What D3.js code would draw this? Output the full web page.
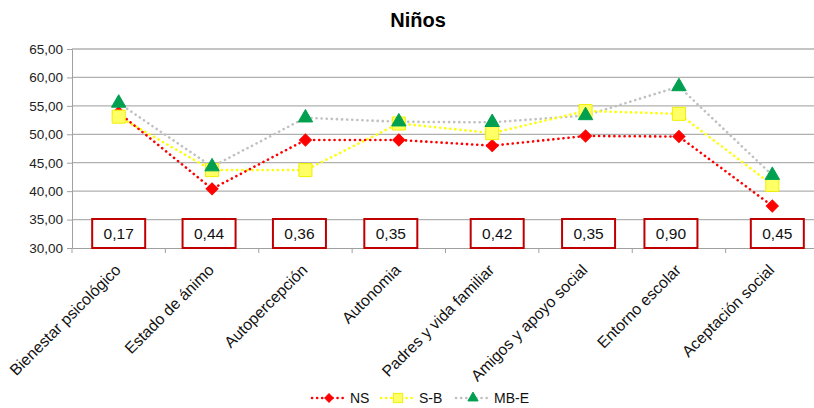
<!DOCTYPE html>
<html>
<head>
<meta charset="utf-8">
<script src="https://cdn.jsdelivr.net/npm/d3@7"></script>
<style>
  body { margin: 0; background: #fff; }
  svg { display: block; font-family: "Liberation Sans", Arial, sans-serif; }
  .grid line { stroke: #b0b0b0; stroke-width: 1.3; }
  .axis path, .axis line { stroke: #a0a0a0; }
</style>
</head>
<body>
<svg></svg>
<script>
const categories = ['Bienestar psicológico', 'Estado de ánimo', 'Autopercepción', 'Autonomia',
  'Padres y vida familiar', 'Amigos y apoyo social', 'Entorno escolar', 'Aceptación social'];
const ns = [53.8, 40.4, 49.0, 49.0, 48.0, 49.7, 49.6, 37.4];
const sb = [53.1, 43.7, 43.7, 51.9, 50.2, 54.1, 53.6, 41.1];
const mbe = [55.5, 44.3, 52.9, 52.2, 52.1, 53.3, 58.4, 42.8];
const pValues = ['0,17', '0,44', '0,36', '0,35', '0,42', '0,35', '0,90', '0,45'];
const yTicks = [30, 35, 40, 45, 50, 55, 60, 65];

const width = 814;
const height = 408;
const margin = { top: 49, right: -5, bottom: 160, left: 72 };

const svg = d3.select('svg')
  .attr('width', width)
  .attr('height', height);

const x = d3.scaleBand()
  .domain(categories)
  .range([margin.left, width - margin.right]);

const y = d3.scaleLinear()
  .domain([30, 65])
  .range([height - margin.bottom, margin.top]);

const fmt = v => d3.format('.2f')(v).replace('.', ',');

// gridlines
svg.append('g')
  .attr('class', 'grid')
  .selectAll('line')
  .data(yTicks.slice(1))
  .enter().append('line')
  .attr('x1', margin.left)
  .attr('x2', width - margin.right)
  .attr('y1', d => y(d))
  .attr('y2', d => y(d));

// y axis
svg.append('g')
  .attr('class', 'axis')
  .attr('transform', `translate(${margin.left},0)`)
  .call(d3.axisLeft(y).tickValues(yTicks).tickFormat(fmt).tickSize(5).tickSizeOuter(0))
  .call(g => g.selectAll('text').attr('font-size', 13.5).attr('fill', '#222').attr('dx', -1));

// x axis
svg.append('g')
  .attr('class', 'axis')
  .attr('transform', `translate(0,${y(30)})`)
  .call(d3.axisBottom(x).tickSize(0).tickSizeOuter(0).tickFormat(''));

svg.append('g')
  .attr('class', 'axis')
  .selectAll('line')
  .data(categories)
  .enter().append('line')
  .attr('x1', d => x(d))
  .attr('x2', d => x(d))
  .attr('y1', y(30))
  .attr('y2', y(30) + 5);

// category labels
svg.append('g')
  .selectAll('text')
  .data(categories)
  .enter().append('text')
  .attr('transform', d => `translate(${x(d) + x.bandwidth() / 2 + 3},${y(30) + 23}) rotate(-45)`)
  .attr('text-anchor', 'end')
  .attr('font-size', 15.8)
  .attr('fill', '#111')
  .text(d => d);

// p-value boxes (hand placed in the original, nudged a little)
const boxShift = [0, -3, -6, -8, 5, 3, -8, 5];
const box = svg.append('g')
  .selectAll('g')
  .data(categories)
  .enter().append('g')
  .attr('transform', (d, i) => `translate(${x(d) + x.bandwidth() / 2 + boxShift[i]},${y(30) - 14.5})`);

box.append('rect')
  .attr('x', -26.5)
  .attr('y', -14.5)
  .attr('width', 53)
  .attr('height', 29)
  .attr('fill', '#fff')
  .attr('stroke', '#c00000')
  .attr('stroke-width', 2);

box.append('text')
  .attr('text-anchor', 'middle')
  .attr('dy', '0.36em')
  .attr('font-size', 15.5)
  .attr('fill', '#111')
  .text((d, i) => pValues[i]);

// series
const series = [
  { name: 'NS', values: ns, color: '#ff0000', shape: d3.symbolSquare, size: 72, rot: 45, fill: '#ff0000', stroke: '#ff0000' },
  { name: 'S-B', values: sb, color: '#ffff00', shape: d3.symbolSquare, size: 170, rot: 0, fill: '#ffff66', stroke: '#f0f000' },
  { name: 'MB-E', values: mbe, color: '#c0c0c0', shape: d3.symbolTriangle, size: 90, rot: 0, fill: '#00a050', stroke: '#00a050' }
];

const line = d3.line()
  .x((d, i) => x(categories[i]) + x.bandwidth() / 2)
  .y(d => y(d));

// draw back-to-front: gray, yellow, red lines, then markers
[...series].reverse().forEach(s => {
  svg.append('path')
    .datum(s.values)
    .attr('fill', 'none')
    .attr('stroke', s.color)
    .attr('stroke-width', 2.6)
    .attr('stroke-linecap', 'round')
    .attr('stroke-dasharray', '0.1 5')
    .attr('d', line);
});

series.forEach(s => {
  svg.append('g')
    .selectAll('path')
    .data(s.values)
    .enter().append('path')
    .attr('transform', (d, i) => `translate(${x(categories[i]) + x.bandwidth() / 2},${y(d)}) rotate(${s.rot})`)
    .attr('d', d3.symbol().type(s.shape).size(s.size))
    .attr('fill', s.fill)
    .attr('stroke', s.stroke)
    .attr('stroke-width', 1);
});

// title
svg.append('text')
  .attr('x', 418)
  .attr('y', 27)
  .attr('text-anchor', 'middle')
  .attr('font-size', 20)
  .attr('font-weight', 'bold')
  .text('Niños');

// legend
const legendX = [312, 381, 456];
const legend = svg.append('g')
  .selectAll('g')
  .data(series)
  .enter().append('g')
  .attr('transform', (d, i) => `translate(${legendX[i]},398)`);

legend.append('line')
  .attr('x1', 0)
  .attr('x2', 33)
  .attr('stroke', d => d.color)
  .attr('stroke-width', 2.6)
  .attr('stroke-linecap', 'round')
  .attr('stroke-dasharray', '0.1 5');

legend.append('path')
  .attr('transform', d => `translate(17,0) rotate(${d.rot})`)
  .attr('d', d => d3.symbol().type(d.shape).size(d.size * 0.5)())
  .attr('fill', d => d.fill)
  .attr('stroke', d => d.stroke);

legend.append('text')
  .attr('x', 38)
  .attr('dy', '0.36em')
  .attr('font-size', 14)
  .attr('fill', '#111')
  .text(d => d.name);
</script>
</body>
</html>
